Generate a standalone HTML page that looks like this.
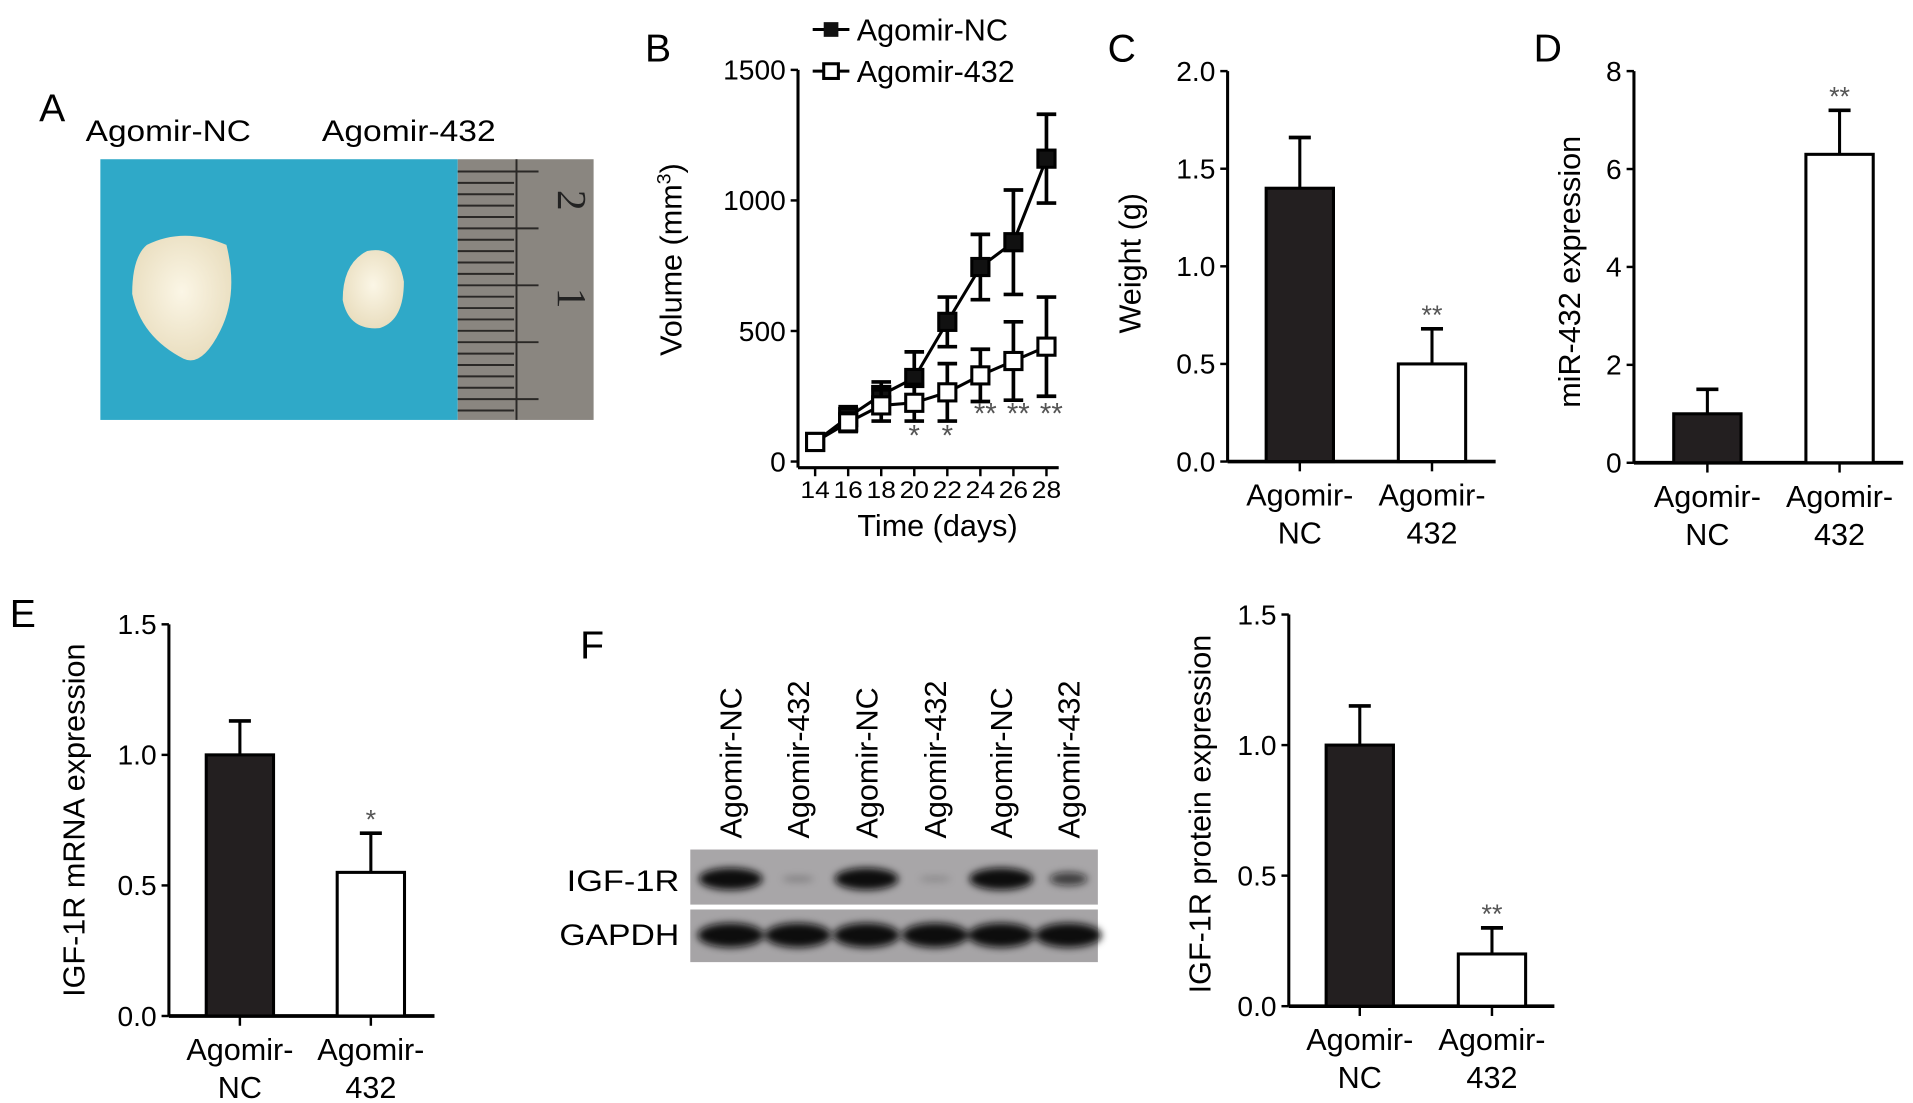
<!DOCTYPE html>
<html><head><meta charset="utf-8">
<style>
html,body{margin:0;padding:0;background:#fff;}
svg{display:block;font-family:"Liberation Sans",Arial,sans-serif;}
</style></head>
<body>
<svg id="fig" width="1913" height="1103" viewBox="0 0 1563 901" xmlns="http://www.w3.org/2000/svg">
<defs>
<radialGradient id="tum" cx="50%" cy="45%" r="60%"><stop offset="0" stop-color="#fbf6e6"/><stop offset="1" stop-color="#e8dcbc"/></radialGradient>
<filter id="blur"><feGaussianBlur stdDeviation="3"/></filter>
</defs>
<!-- Panel A -->
<g>
<text x="32" y="99" font-size="32">A</text>
<text x="70" y="115" font-size="24" textLength="135" lengthAdjust="spacingAndGlyphs">Agomir-NC</text>
<text x="263" y="115" font-size="24" textLength="142" lengthAdjust="spacingAndGlyphs">Agomir-432</text>
<rect x="82" y="130" width="292" height="213" fill="#2fa9c8"/>
<rect x="374" y="130" width="111" height="213" fill="#8a8680"/>
<g id="rulerTicks" stroke="#2a2826" stroke-width="1.6"></g>
<text x="466" y="165" font-size="34" font-family="Liberation Serif" fill="#222" transform="rotate(90 466 155)">2</text>
<text x="466" y="245" font-size="34" font-family="Liberation Serif" fill="#222" transform="rotate(90 466 235)">1</text>
<path d="M120 200 Q150 185 185 200 Q195 240 180 270 Q165 300 150 293 Q115 275 108 240 Q108 210 120 200Z" fill="url(#tum)"/>
<path d="M300 205 Q325 200 330 230 Q330 262 310 268 Q285 270 280 245 Q280 215 300 205Z" fill="url(#tum)"/>
</g>
<g id="charts"></g>
<!-- Panel F blot -->
<g>
<text x="474" y="538" font-size="32">F</text>
<rect x="564" y="694" width="333" height="45" fill="#a8a6a8"/>
<rect x="564" y="743" width="333" height="43" fill="#a6a4a6"/>
<g id="bands" filter="url(#blur)"></g>
<text x="555" y="728" font-size="24" text-anchor="end" textLength="92" lengthAdjust="spacingAndGlyphs">IGF-1R</text>
<text x="555" y="772" font-size="24" text-anchor="end" textLength="98" lengthAdjust="spacingAndGlyphs">GAPDH</text>
<g id="laneLabels"></g>
</g>
</svg>
<script>
const NS="http://www.w3.org/2000/svg";
function mk(tag,attrs,parent,txt){const e=document.createElementNS(NS,tag);for(const k in attrs)e.setAttribute(k,attrs[k]);if(txt!==undefined)e.textContent=txt;parent.appendChild(e);return e;}
const charts=document.getElementById('charts');

// ruler ticks
const rt=document.getElementById('rulerTicks');
for(let i=0;i<22;i++){const y=140+i*9.3;const l=mk('line',{x1:374,y1:y,x2:(i%5==0)?440:420,y2:y},rt);}
const vl=mk('line',{x1:422,y1:130,x2:422,y2:343},rt);

// ---------- Panel B data ----------
const daysB=[14,16,18,20,22,24,26,28];
const ncVol=[75,170,255,320,535,745,840,1160];
const ncErr=[15,40,50,100,95,125,200,170];
const agVol=[75,150,215,225,265,330,385,440];
const agErr=[15,35,60,70,110,100,150,190];
const sigB=["","","","*","*","**","**","**"];
const ticksB=[0,500,1000,1500];

// bar panels data
const barCats=["NC","432"];
const weightVals=[1.4,0.5], weightErr=[0.26,0.18], weightSig=["","**"], weightTicks=[0.0,0.5,1.0,1.5,2.0];
const mirVals=[1.0,6.3], mirErr=[0.5,0.9], mirSig=["","**"], mirTicks=[0,2,4,6,8];
const mrnaVals=[1.0,0.55], mrnaErr=[0.13,0.15], mrnaSig=["","*"], mrnaTicks=[0.0,0.5,1.0,1.5];
const protVals=[1.0,0.2], protErr=[0.15,0.1], protSig=["","**"], protTicks=[0.0,0.5,1.0,1.5];
const igfBand=[1.0,0.15,1.0,0.08,1.0,0.6];
const gapdhBand=[1,1,1,1,1,1];
const laneNames=["Agomir-NC","Agomir-432","Agomir-NC","Agomir-432","Agomir-NC","Agomir-432"];

// ---------- Panel B ----------
(function(){
const g=mk('g',{},charts);


const x0=652,yTop=57,yBot=377,xl=666,xr=855;
const ys=v=>yBot-(v/1500)*(yBot-yTop);
const xs=d=>xl+(d-14)/(28-14)*(xr-xl);
const lb=mk('text',{x:527,y:50,'font-size':32},g,'B');

const ya=mk('line',{x1:x0,y1:yTop,x2:x0,y2:yBot+5,stroke:'#000','stroke-width':2.5},g);

const xa=mk('line',{x1:x0,y1:yBot+5,x2:865,y2:yBot+5,stroke:'#000','stroke-width':2.5},g);

ticksB.forEach(t=>{mk('line',{x1:x0-6,y1:ys(t),x2:x0,y2:ys(t),stroke:'#000','stroke-width':2},g);
 const tl=mk('text',{x:x0-10,y:ys(t)+8,'font-size':23,'text-anchor':'end'},g,String(t));
 });
daysB.forEach(d=>{mk('line',{x1:xs(d),y1:yBot+5,x2:xs(d),y2:yBot+12,stroke:'#000','stroke-width':2},g);
 const tl=mk('text',{x:xs(d),y:407,'font-size':20,'text-anchor':'middle',textLength:24,lengthAdjust:'spacingAndGlyphs'},g,String(d));
 });
const xt=mk('text',{x:766,y:438,'font-size':25,'text-anchor':'middle'},g,'Time (days)');

const yt=mk('text',{x:0,y:0,'font-size':25,'text-anchor':'middle',transform:'translate(557 212) rotate(-90)'},g);

yt.innerHTML='Volume (mm<tspan dy="-9" font-size="16">3</tspan><tspan dy="9">)</tspan>';
function series(vals,errs,filled,name){
 const sg=mk('g',{},g);
 
 mk('polyline',{points:vals.map((v,i)=>xs(daysB[i])+','+ys(v)).join(' '),fill:'none',stroke:'#000','stroke-width':2.5},sg);
 vals.forEach((v,i)=>{const x=xs(daysB[i]);
  mk('line',{x1:x,y1:ys(v+errs[i]),x2:x,y2:ys(v-errs[i]),stroke:'#000','stroke-width':3},sg);
  mk('line',{x1:x-8,y1:ys(v+errs[i]),x2:x+8,y2:ys(v+errs[i]),stroke:'#000','stroke-width':3},sg);
  mk('line',{x1:x-8,y1:ys(v-errs[i]),x2:x+8,y2:ys(v-errs[i]),stroke:'#000','stroke-width':3},sg);
  const m=mk('rect',{x:x-7,y:ys(v)-7,width:14,height:14,fill:filled?'#111':'#fff',stroke:'#000','stroke-width':2.5},sg);
  });
}
series(ncVol,ncErr,true,'series-agomir-nc');
series(agVol,agErr,false,'series-agomir-432');
sigB.forEach((s,i)=>{if(!s)return;const y=s.length==1?364:346;
 const t=mk('text',{x:xs(daysB[i])+(s.length==2?4:0),y:y,'font-size':24,'text-anchor':'middle',fill:'#555'},g,s);
 });
// legend
const lg=mk('g',{},g);
mk('line',{x1:664,y1:24,x2:694,y2:24,stroke:'#000','stroke-width':2.5},lg);
mk('rect',{x:673,y:18,width:12,height:12,fill:'#111'},lg);
const l1=mk('text',{x:700,y:33,'font-size':25},lg,'Agomir-NC');
mk('line',{x1:664,y1:58,x2:694,y2:58,stroke:'#000','stroke-width':2.5},lg);
mk('rect',{x:673,y:52,width:12,height:12,fill:'#fff',stroke:'#000','stroke-width':2.5},lg);
const l2=mk('text',{x:700,y:67,'font-size':25},lg,'Agomir-432');
})();

// ---------- bar chart helper ----------
function barChart(o){
 const g=mk('g',{},charts);
 
 
 const max=o.ticks[o.ticks.length-1];
 const ys=v=>o.yBot-(v/max)*(o.yBot-o.yTop);
 if(o.label){const l=mk('text',{x:o.lx,y:o.ly,'font-size':32},g,o.label);}
 const ya=mk('line',{x1:o.x0,y1:o.yTop,x2:o.x0,y2:o.yBot,stroke:'#000','stroke-width':2.5},g);
 
 const xa=mk('line',{x1:o.x0,y1:o.yBot,x2:o.xEnd,y2:o.yBot,stroke:'#000','stroke-width':3},g);
 
 o.ticks.forEach(t=>{mk('line',{x1:o.x0-6,y1:ys(t),x2:o.x0,y2:ys(t),stroke:'#000','stroke-width':2},g);
  const tl=mk('text',{x:o.x0-10,y:ys(t)+8,'font-size':23,'text-anchor':'end'},g,o.dec?t.toFixed(1):String(t));
  });
 const yt=mk('text',{x:0,y:0,'font-size':25,'text-anchor':'middle',transform:`translate(${o.tx} ${o.ty}) rotate(-90)`},g,o.title);
 
 o.vals.forEach((v,i)=>{const cx=o.cx[i],w=55;
  const b=mk('rect',{x:cx-w/2,y:ys(v),width:w,height:o.yBot-ys(v),fill:i==0?'#231f20':'#fff',stroke:'#000','stroke-width':2.5},g);
  
  const e=ys(v+o.errs[i]);
  mk('line',{x1:cx,y1:ys(v),x2:cx,y2:e,stroke:'#000','stroke-width':2.5},g);
  mk('line',{x1:cx-9,y1:e,x2:cx+9,y2:e,stroke:'#000','stroke-width':3},g);
  mk('line',{x1:cx,y1:o.yBot,x2:cx,y2:o.yBot+8,stroke:'#000','stroke-width':2},g);
  if(o.sig[i]){const s=mk('text',{x:cx,y:e-4,'font-size':22,'text-anchor':'middle',fill:'#555'},g,o.sig[i]);}
  const a=mk('text',{x:cx,y:o.yBot+36,'font-size':25,'text-anchor':'middle'},g,'Agomir-');
  
  const c=mk('text',{x:cx,y:o.yBot+67,'font-size':25,'text-anchor':'middle'},g,barCats[i]);
  
 });
}
barChart({name:'panel-c-weight-chart',label:'C',lx:905,ly:50,x0:1003,yTop:58,yBot:377,xEnd:1222,ticks:weightTicks,dec:true,vals:weightVals,errs:weightErr,sig:weightSig,cx:[1062,1170],title:'Weight (g)',tx:932,ty:215});
barChart({name:'panel-d-mir432-chart',label:'D',lx:1253,ly:50,x0:1335,yTop:58,yBot:378,xEnd:1555,ticks:mirTicks,dec:false,vals:mirVals,errs:mirErr,sig:mirSig,cx:[1395,1503],title:'miR-432 expression',tx:1291,ty:222});
barChart({name:'panel-e-mrna-chart',label:'E',lx:8,ly:512,x0:138,yTop:510,yBot:830,xEnd:355,ticks:mrnaTicks,dec:true,vals:mrnaVals,errs:mrnaErr,sig:mrnaSig,cx:[196,303],title:'IGF-1R mRNA expression',tx:69,ty:670});
barChart({name:'panel-f-protein-chart',label:'',x0:1053,yTop:502,yBot:822,xEnd:1270,ticks:protTicks,dec:true,vals:protVals,errs:protErr,sig:protSig,cx:[1111,1219],title:'IGF-1R protein expression',tx:989,ty:665});

// blot bands & lane labels
const bands=document.getElementById('bands');
const lanes=document.getElementById('laneLabels');
const laneX=[597,652,708,764,818,873];
laneNames.forEach((n,i)=>{
 const ib=igfBand[i];
 const b1=mk('ellipse',{cx:laneX[i],cy:718,rx:26*Math.max(ib,0.5),ry:9*Math.max(ib,0.25),fill:'#111',opacity:Math.min(1,ib+0.1)},bands);
 
 const b2=mk('ellipse',{cx:laneX[i],cy:764,rx:27*gapdhBand[i],ry:10,fill:'#0d0d0d'},bands);
 
 const t=mk('text',{x:0,y:0,'font-size':25,transform:`translate(${laneX[i]+9} 685) rotate(-90)`},lanes,n);
 
});
</script>
</body></html>
